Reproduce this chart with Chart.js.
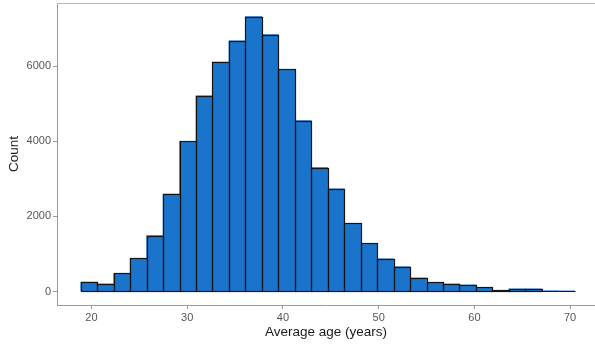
<!DOCTYPE html>
<html>
<head>
<meta charset="utf-8">
<script src="https://cdn.jsdelivr.net/npm/chart.js@4.4.1/dist/chart.umd.min.js"></script>
<style>
  html, body { margin: 0; padding: 0; background: #fff; }
  #wrap { width: 595px; height: 347px; }
</style>
</head>
<body>
<div id="wrap"><canvas id="histChart" width="595" height="347"></canvas></div>
<script>
// histogram bins (centre of each 1.72-year bin) and counts
const binCenters = [19.74, 21.46, 23.18, 24.90, 26.62, 28.34, 30.06, 31.78, 33.50, 35.22,
                    36.94, 38.66, 40.38, 42.10, 43.82, 45.54, 47.26, 48.98, 50.70, 52.42,
                    54.14, 55.86, 57.58, 59.30, 61.02, 62.74, 64.46, 66.18, 67.90, 69.62];
const counts = [250, 200, 480, 880, 1490, 2590, 4000, 5210, 6110, 6670,
                7320, 6840, 5910, 4550, 3300, 2730, 1810, 1280, 870, 660,
                360, 240, 200, 175, 110, 30, 70, 70, 20, 15];
const xTicks = [20, 30, 40, 50, 60, 70];
const yTicks = [0, 2000, 4000, 6000];

const tickFont = { family: 'Liberation Sans, Arial, sans-serif', size: 11 };
const titleFont = { family: 'Liberation Sans, Arial, sans-serif', size: 13.5 };

// thin frame line along the top of the panel
const topLine = {
    id: 'topLine',
    afterDraw(chart) {
        const ctx = chart.ctx;
        const a = chart.chartArea;
        ctx.save();
        ctx.strokeStyle = '#b5b5b5';
        ctx.lineWidth = 1;
        ctx.beginPath();
        ctx.moveTo(a.left, a.top + 0.5);
        ctx.lineTo(chart.width, a.top + 0.5);
        ctx.stroke();
        ctx.restore();
    }
};

// outline every bar on its edges (so even near-zero bins show a dark line)
const barOutline = {
    id: 'barOutline',
    afterDatasetsDraw(chart) {
        const ctx = chart.ctx;
        const meta = chart.getDatasetMeta(0);
        ctx.save();
        ctx.strokeStyle = '#141414';
        ctx.lineWidth = 1.2;
        meta.data.forEach(bar => {
            const p = bar.getProps(['x', 'y', 'base', 'width'], true);
            const left = Math.round(p.x - p.width / 2) + 0.5;
            const right = Math.round(p.x + p.width / 2) + 0.5;
            const top = Math.round(p.y) + 0.5;
            const bottom = Math.round(p.base) + 0.5;
            ctx.strokeRect(left, top, right - left, bottom - top);
        });
        ctx.restore();
    }
};

function renderHistogram() {
    const ctx = document.getElementById('histChart').getContext('2d');
    new Chart(ctx, {
        type: 'bar',
        data: {
            datasets: [{
                data: binCenters.map((x, i) => ({ x: x, y: counts[i] })),
                backgroundColor: '#1b74cc',
                borderWidth: 0,
                barPercentage: 1,
                categoryPercentage: 1
            }]
        },
        options: {
            responsive: false,
            animation: false,
            layout: { padding: { top: 3, right: 0, left: 0, bottom: 0 } },
            plugins: {
                legend: { display: false },
                tooltip: { enabled: false }
            },
            scales: {
                x: {
                    type: 'linear',
                    offset: false,
                    min: 16.4,
                    max: 72.6,
                    afterBuildTicks: s => { s.ticks = xTicks.map(v => ({ value: v })); },
                    afterFit: s => {
                        s.height = 42;
                        s.paddingLeft = 0;
                        s.paddingRight = 0;
                    },
                    grid: { offset: false, drawOnChartArea: false, color: '#999', tickLength: 4 },
                    border: { color: '#999', width: 1 },
                    ticks: { color: '#555', font: tickFont, padding: 2, maxRotation: 0 },
                    title: {
                        display: true,
                        text: 'Average age (years)',
                        color: '#1a1a1a',
                        font: titleFont,
                        padding: { top: 0, bottom: 7 }
                    }
                },
                y: {
                    min: -360,
                    max: 7680,
                    afterBuildTicks: s => { s.ticks = yTicks.map(v => ({ value: v })); },
                    afterFit: s => {
                        s.width = 57;
                        s.paddingTop = 0;
                        s.paddingBottom = 0;
                    },
                    grid: { drawOnChartArea: false, color: '#999', tickLength: 4 },
                    border: { color: '#999', width: 1 },
                    ticks: { color: '#555', font: tickFont, padding: 2, callback: v => String(v) },
                    title: {
                        display: true,
                        text: 'Count',
                        color: '#1a1a1a',
                        font: titleFont,
                        padding: { top: 6, bottom: 0 }
                    }
                }
            }
        },
        plugins: [barOutline, topLine]
    });
}

renderHistogram();
</script>
</body>
</html>
